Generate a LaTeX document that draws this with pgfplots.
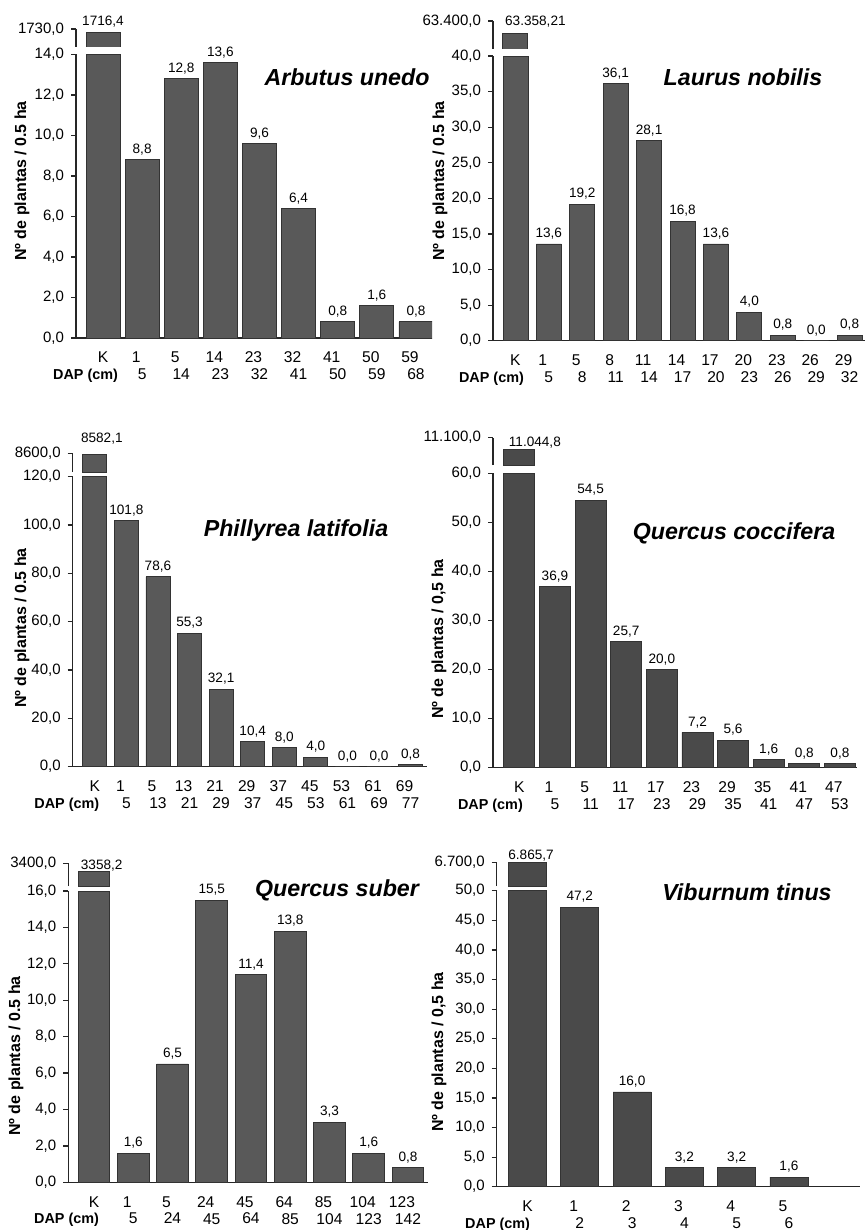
\documentclass[border=0pt]{standalone}
\usepackage{fontspec}
\setmainfont{Liberation Sans}
\usepackage{pgfplots}
\pgfplotsset{compat=1.18}
\definecolor{barL}{HTML}{595959}
\definecolor{barR}{HTML}{4A4A4A}
\definecolor{barline}{HTML}{333333}
\newcommand{\tl}[2]{\kern-3pt\makebox[0pt]{#1}\kern3pt\\\makebox[0pt]{#2}}
\newcommand{\kl}[1]{K\\\makebox[0pt][r]{\bfseries\fontsize{7.2}{8}\selectfont DAP (cm)\kern-#1}}
\newcommand{\ylab}{\bfseries\fontsize{8}{9}\selectfont}
\newcommand{\ttl}{\bfseries\itshape\fontsize{11.6}{13}\selectfont}
\tikzset{kval/.style={font=\fontsize{6.8}{7.5}\selectfont, black}}
\pgfplotsset{
  mainax/.style={
    scale only axis, anchor=south west,
    axis x line=bottom, axis y line=left,
    axis line style={-, line width=0.7pt, black!85},
    ymin=0, clip mode=individual,
    xtick style={draw=none},
    ytick style={black!85, line width=0.6pt},
    tick align=outside, major tick length=2.5pt,
    xticklabel style={font=\fontsize{7.8}{8.4}\selectfont, align=center, yshift=-1pt},
    yticklabel style={font=\fontsize{7.5}{8.5}\selectfont, /pgf/number format/.cd, fixed, fixed zerofill, precision=1, use comma, assume math mode=true},
  },
  upax/.style={
    scale only axis, anchor=south west,
    axis y line=left, axis x line=none,
    axis line style={-, line width=0.7pt, black!85},
    clip mode=individual, xtick=\empty, scaled y ticks=false,
    ytick style={black!85, line width=0.6pt},
    tick align=outside, major tick length=2.5pt,
    yticklabel style={font=\fontsize{7.5}{8.5}\selectfont},
  },
  bars/.style={ybar, bar shift=0pt, fill=#1, draw=barline, line width=0.4pt},
  vals/.style={nodes near coords, point meta=explicit symbolic,
    every node near coord/.append style={kval, yshift=-1.25pt}},
}
\begin{document}
\begin{tikzpicture}
\path[use as bounding box] (0pt,0pt) rectangle (433.5pt,-615pt);

% ---------- Arbutus unedo ----------
\begin{axis}[mainax, at={(38pt,-169pt)}, width=178pt, height=141.75pt,
  xmin=-0.69, xmax=8.41, ymax=14, ytick={0,2,...,14}, bar width=17pt,
  xtick={0,...,8},
  xticklabels={\kl{7.5pt},\tl{1}{5},\tl{5}{14},\tl{14}{23},\tl{23}{32},\tl{32}{41},\tl{41}{50},\tl{50}{59},\tl{59}{68}}]
\addplot[bars=barL, y filter/.expression={min(y,14)}] coordinates {(0,1716.4)};
\addplot[bars=barL, vals] table[meta=l] {
x y l
1 8.8 8,8
2 12.8 12,8
3 13.6 13,6
4 9.6 9,6
5 6.4 6,4
6 0.8 0,8
7 1.6 1,6
8 0.8 0,8
};
\end{axis}
\begin{axis}[upax, at={(38pt,-23.5pt)}, width=178pt, height=9pt,
  xmin=-0.69, xmax=8.41, ymin=1648, ymax=1730, ytick={1730}, yticklabel={1730,0}, bar width=17pt]
\addplot[bars=barL, nodes near coords={1716,4}, every node near coord/.append style={kval, yshift=-1pt}] coordinates {(0,1716.4)};
\end{axis}
\node[rotate=90, font=\ylab] at (11pt,-90.5pt) {Nº de plantas / 0.5 ha};
\node[font=\ttl] at (173.5pt,-38.5pt) {Arbutus unedo};

% ---------- Laurus nobilis ----------
\begin{axis}[mainax, at={(246.5pt,-170.35pt)}, width=186pt, height=142.35pt,
  xmin=-0.67, xmax=10.46, ymax=40, ytick={0,5,...,40}, bar width=12.5pt,
  xtick={0,...,10},
  xticklabels={\kl{4.25pt},\tl{1}{5},\tl{5}{8},\tl{8}{11},\tl{11}{14},\tl{14}{17},\tl{17}{20},\tl{20}{23},\tl{23}{26},\tl{26}{29},\tl{29}{32}}]
\addplot[bars=barL, y filter/.expression={min(y,40)}] coordinates {(0,63358.21)};
\addplot[bars=barL, vals] table[meta=l] {
x y l
1 13.6 13,6
2 19.2 19,2
3 36.1 36,1
4 28.1 28,1
5 16.8 16,8
6 13.6 13,6
7 4.0 4,0
8 0.8 0,8
9 0.0 0,0
10 0.8 0,8
};
\end{axis}
\begin{axis}[upax, at={(246.5pt,-24.5pt)}, width=186pt, height=14pt,
  xmin=-0.67, xmax=10.46, ymin=63302, ymax=63400, ytick={63400}, yticklabel={63.400,0}, bar width=12.5pt]
\addplot[bars=barL, nodes near coords={63.358,21}, every node near coord/.append style={kval, yshift=-0.85pt, xshift=10pt}] coordinates {(0,63358.21)};
\end{axis}
\node[rotate=90, font=\ylab] at (220pt,-90.5pt) {Nº de plantas / 0.5 ha};
\node[font=\ttl] at (371.5pt,-38.5pt) {Laurus nobilis};

% ---------- Phillyrea latifolia ----------
\begin{axis}[mainax, at={(36.35pt,-383.35pt)}, width=177.15pt, height=145pt,
  xmin=-0.70, xmax=10.52, ymax=120, ytick={0,20,...,120}, bar width=12pt,
  xtick={0,...,10},
  xticklabels={\kl{2.2pt},\tl{1}{5},\tl{5}{13},\tl{13}{21},\tl{21}{29},\tl{29}{37},\tl{37}{45},\tl{45}{53},\tl{53}{61},\tl{61}{69},\tl{69}{77}}]
\addplot[bars=barL, y filter/.expression={min(y,120)}] coordinates {(0,8582.1)};
\addplot[bars=barL, vals] table[meta=l] {
x y l
1 101.8 101,8
2 78.6 78,6
3 55.3 55,3
4 32.1 32,1
5 10.4 10,4
6 8.0 8,0
7 4.0 4,0
8 0.0 0,0
9 0.0 0,0
10 0.8 0,8
};
\end{axis}
\begin{axis}[upax, at={(36.35pt,-236pt)}, width=177.15pt, height=9.35pt,
  xmin=-0.70, xmax=10.52, ymin=8262, ymax=8600, ytick={8600}, yticklabel={8600,0}, bar width=12pt]
\addplot[bars=barL, nodes near coords={8582,1}, every node near coord/.append style={kval, yshift=1.5pt, xshift=3.5pt}] coordinates {(0,8582.1)};
\end{axis}
\node[rotate=90, font=\ylab] at (11pt,-314pt) {Nº de plantas / 0.5 ha};
\node[font=\ttl] at (148pt,-265pt) {Phillyrea latifolia};

% ---------- Quercus coccifera ----------
\begin{axis}[mainax, at={(246.5pt,-383.85pt)}, width=182pt, height=147.2pt,
  xmin=-0.74, xmax=9.48, ymax=60, ytick={0,10,...,60}, bar width=15.5pt,
  xtick={0,...,9},
  xticklabels={\kl{1.75pt},\tl{1}{5},\tl{5}{11},\tl{11}{17},\tl{17}{23},\tl{23}{29},\tl{29}{35},\tl{35}{41},\tl{41}{47},\tl{47}{53}}]
\addplot[bars=barR, y filter/.expression={min(y,60)}] coordinates {(0,11044.8)};
\addplot[bars=barR, vals] table[meta=l] {
x y l
1 36.9 36,9
2 54.5 54,5
3 25.7 25,7
4 20.0 20,0
5 7.2 7,2
6 5.6 5,6
7 1.6 1,6
8 0.8 0,8
9 0.8 0,8
};
\end{axis}
\begin{axis}[upax, at={(246.5pt,-232.5pt)}, width=182pt, height=13.65pt,
  xmin=-0.74, xmax=9.48, ymin=10970, ymax=11100, ytick={11100}, yticklabel={11.100,0}, bar width=15.5pt]
\addplot[bars=barR, nodes near coords={11.044,8}, every node near coord/.append style={kval, yshift=-2.85pt, xshift=7.75pt}] coordinates {(0,11044.8)};
\end{axis}
\node[rotate=90, font=\ylab] at (219.5pt,-319.5pt) {Nº de plantas / 0,5 ha};
\node[font=\ttl] at (367pt,-266.5pt) {Quercus coccifera};

% ---------- Quercus suber ----------
\begin{axis}[mainax, at={(34.15pt,-591.15pt)}, width=179.85pt, height=145.65pt,
  xmin=-0.655, xmax=8.51, ymax=16, ytick={0,2,...,16}, bar width=15.85pt,
  xtick={0,...,8},
  xticklabels={\kl{2.5pt},\tl{1}{5},\tl{5}{24},\tl{24}{45},\tl{45}{64},\tl{64}{85},\tl{85}{104},\tl{104}{123},\tl{123}{142}}]
\addplot[bars=barL, y filter/.expression={min(y,16)}] coordinates {(0,3358.2)};
\addplot[bars=barL, vals] table[meta=l] {
x y l
1 1.6 1,6
2 6.5 6,5
3 15.5 15,5
4 11.4 11,4
5 13.8 13,8
6 3.3 3,3
7 1.6 1,6
8 0.8 0,8
};
\end{axis}
\begin{axis}[upax, at={(34.15pt,-443pt)}, width=179.85pt, height=11.35pt,
  xmin=-0.655, xmax=8.51, ymin=3287, ymax=3400, ytick={3400}, yticklabel={3400,0}, bar width=15.85pt]
\addplot[bars=barL, nodes near coords={3358,2}, every node near coord/.append style={kval, yshift=-3.15pt, xshift=3.85pt}] coordinates {(0,3358.2)};
\end{axis}
\node[rotate=90, font=\ylab] at (8pt,-528pt) {Nº de plantas / 0.5 ha};
\node[font=\ttl] at (168.5pt,-445pt) {Quercus suber};

% ---------- Viburnum tinus ----------
\begin{axis}[mainax, at={(248.35pt,-593.35pt)}, width=181.65pt, height=148pt,
  xmin=-0.59, xmax=6.36, ymax=50, ytick={0,5,...,50}, bar width=19pt,
  xtick={0,...,5},
  xticklabels={\kl{1.25pt},\tl{1}{2},\tl{2}{3},\tl{3}{4},\tl{4}{5},\tl{5}{6}}]
\addplot[bars=barR, y filter/.expression={min(y,50)}] coordinates {(0,6865.7)};
\addplot[bars=barR, vals] table[meta=l] {
x y l
1 47.2 47,2
2 16.0 16,0
3 3.2 3,2
4 3.2 3,2
5 1.6 1,6
};
\end{axis}
\begin{axis}[upax, at={(248.35pt,-443pt)}, width=181.65pt, height=11.65pt,
  xmin=-0.59, xmax=6.36, ymin=6600, ymax=6700, ytick={6700}, yticklabel={6.700,0}, bar width=19pt]
\addplot[bars=barR, y filter/.expression={min(y,6700)}, nodes near coords={6.865,7}, every node near coord/.append style={kval, yshift=-3pt, xshift=1.75pt}] coordinates {(0,6865.7)};
\end{axis}
\node[rotate=90, font=\ylab] at (219.5pt,-526pt) {Nº de plantas / 0,5 ha};
\node[font=\ttl] at (373.5pt,-446pt) {Viburnum tinus};
\end{tikzpicture}
\end{document}
